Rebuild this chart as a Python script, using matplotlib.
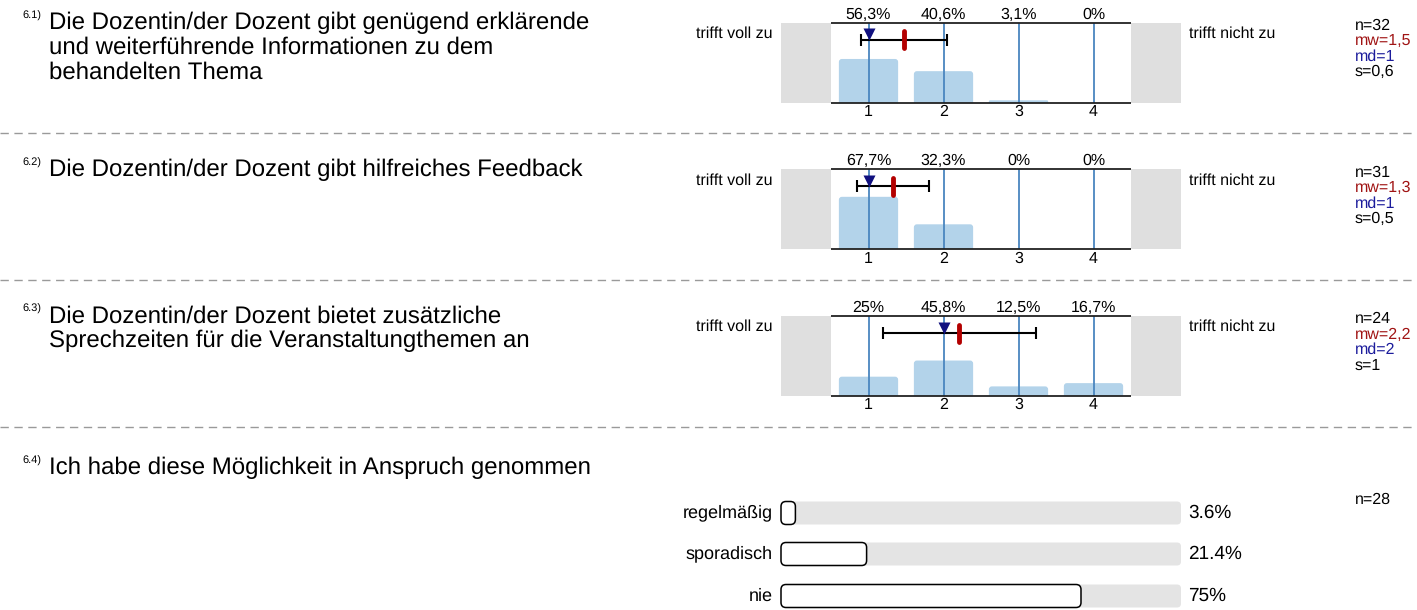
import matplotlib
matplotlib.use('Agg')
import matplotlib.pyplot as plt
from matplotlib.patches import FancyBboxPatch
from matplotlib.lines import Line2D

plt.rcParams['font.family'] = ['Liberation Sans', 'DejaVu Sans']
plt.rcParams['text.hinting'] = 'no_hinting'
plt.rcParams['text.hinting_factor'] = 1

W, H = 1417, 610

# rating questions 6.1 - 6.3
numbers = ['6.1)', '6.2)', '6.3)']
questions = ['Die Dozentin/der Dozent gibt genügend erklärende\n'
             'und weiterführende Informationen zu dem\nbehandelten Thema',
             'Die Dozentin/der Dozent gibt hilfreiches Feedback',
             'Die Dozentin/der Dozent bietet zusätzliche\n'
             'Sprechzeiten für die Veranstaltungthemen an']
scale = [1, 2, 3, 4]
shares = [[56.3, 40.6, 3.1, 0], [67.7, 32.3, 0, 0], [25, 45.8, 12.5, 16.7]]
n_answers = [32, 31, 24]
means = [1.47, 1.32, 2.21]
medians = [1, 1, 2]
sdevs = [0.57, 0.48, 1.02]
left_label = 'trifft voll zu'
right_label = 'trifft nicht zu'

# frequency question 6.4
q4_number = '6.4)'
q4_text = 'Ich habe diese Möglichkeit in Anspruch genommen'
q4_options = ['regelmäßig', 'sporadisch', 'nie']
q4_shares = [3.6, 21.4, 75]
q4_n = 28

QSIZE = 17
SMALL = 11.3


def de(v):
    return f'{v:g}'.replace('.', ',')


def box(x0, y0, w, h):
    return [x0 / W, 1 - (y0 + h) / H, w / W, h / H]


def fy(y):
    return 1 - y / H


fig = plt.figure(figsize=(W / 100, H / 100), dpi=100)

# dashed separators
for y in [133, 280, 427]:
    fig.add_artist(Line2D([0, 1], [fy(y), fy(y)], transform=fig.transFigure,
                          color='#9a9a9a', lw=1, dashes=(6, 4)))

step = 146.7
for k in range(3):
    top = 22.7 + step * k
    fig.text(22 / W, fy(top - 7), numbers[k], fontsize=8, va='center')
    for j, line in enumerate(questions[k].split('\n')):
        fig.text(49 / W, fy(top + 25 * j), line, fontsize=QSIZE, va='center')

    ax = fig.add_axes(box(781, top, 400, 80))
    x0, x1 = 0.5 - 50 / 75, 4.5 + 50 / 75
    ax.set_xlim(x0, x1)
    ax.set_ylim(0, 103)
    ax.axis('off')
    ax.axvspan(x0, 0.5, color='#dfdfdf', lw=0)
    ax.axvspan(4.5, x1, color='#dfdfdf', lw=0)

    for x, p in zip(scale, shares[k]):
        if p > 0:
            r = min(0.04, p / 2 / 96.5)
            ax.add_patch(FancyBboxPatch((x - 0.395, -5), 0.79, p + 5,
                                        boxstyle=f'round,pad=0,rounding_size={r}',
                                        mutation_aspect=96.5, fc='#b3d3ea', ec='none'))
        ax.text(x, 104, de(p) + '%', ha='center', va='bottom', fontsize=SMALL)
        ax.text(x, -2, str(x), ha='center', va='top', fontsize=SMALL)

    ax.vlines(scale, 0, 103, color='#4a86bf', lw=1.3)
    ax.hlines([0, 103], 0.5, 4.5, color='#222222', lw=1.3, clip_on=False)

    ax.errorbar(means[k], 81, xerr=sdevs[k], fmt='none', ecolor='black',
                elinewidth=1.5, capsize=4, capthick=1.5)
    ax.plot([means[k], means[k]], [70, 92], color='#b30000', lw=3.5,
            solid_capstyle='round')
    ax.plot(medians[k], 88, marker='v', color='#10107f', ms=8, mec='none')

    fig.text(773 / W, fy(top + 11), left_label, ha='right', va='center', fontsize=SMALL)
    fig.text(1189 / W, fy(top + 11), right_label, ha='left', va='center', fontsize=SMALL)

    stats = [('n=%d' % n_answers[k], 'black'),
             ('mw=' + de(round(means[k], 1)), '#a01414'),
             ('md=' + de(medians[k]), '#1c1c9c'),
             ('s=' + de(round(sdevs[k], 1)), 'black')]
    for i, (s, c) in enumerate(stats):
        fig.text(1355 / W, fy(top + 3 + 15.5 * i), s, color=c, fontsize=SMALL,
                 va='center')

# question 6.4
fig.text(22 / W, fy(461), q4_number, fontsize=8, va='center')
fig.text(49 / W, fy(468), q4_text, fontsize=QSIZE, va='center')
fig.text(1355 / W, fy(500), 'n=%d' % q4_n, fontsize=SMALL, va='center')

ax = fig.add_axes(box(781, 490, 400, 120))
ax.set_xlim(0, 100)
ax.set_ylim(120, 0)
ax.axis('off')
rows = [23, 64, 106]
for y, lab, p in zip(rows, q4_options, q4_shares):
    ax.add_patch(FancyBboxPatch((0, y - 11.5), 100, 23,
                                boxstyle='round,pad=0,rounding_size=1',
                                mutation_aspect=4, fc='#e4e4e4', ec='none'))
    r = min(1.25, p / 2)
    ax.add_patch(FancyBboxPatch((0, y - 11.5), p, 23,
                                boxstyle=f'round,pad=0,rounding_size={r}',
                                mutation_aspect=4, fc='white', ec='black',
                                lw=1.1, clip_on=False))
    ax.text(-2, y, lab, ha='right', va='center', fontsize=13.2)
    ax.text(101.75, y, f'{p:g}%', ha='left', va='center', fontsize=14)

fig.savefig('out.png', dpi=100)
